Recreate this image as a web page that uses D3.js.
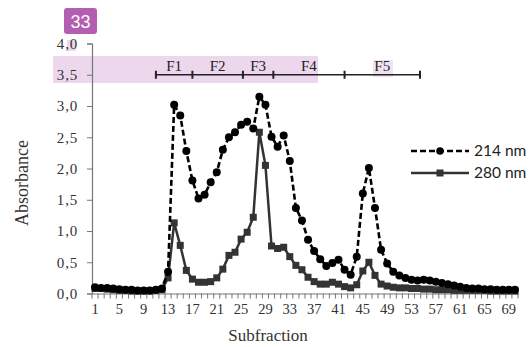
<!DOCTYPE html>
<html>
<head>
<meta charset="utf-8">
<script src="https://cdn.jsdelivr.net/npm/d3@7"></script>
<style>
  html, body { margin: 0; padding: 0; background: #fff; }
  svg { display: block; }
</style>
</head>
<body>
<svg id="chart" width="529" height="347"></svg>
<script>
// subfractions 1..70
const fractions = d3.range(1, 71);

const abs214 = [
  0.10, 0.09, 0.09, 0.08, 0.07, 0.06, 0.06, 0.05, 0.05, 0.05,
  0.06, 0.08, 0.35, 3.02, 2.85, 2.28, 1.81, 1.52, 1.58, 1.78,
  1.94, 2.30, 2.50, 2.58, 2.70, 2.75, 2.64, 3.15, 3.02, 2.51,
  2.35, 2.53, 2.12, 1.37, 1.17, 0.86, 0.68, 0.55, 0.44, 0.49,
  0.54, 0.38, 0.30, 0.59, 1.60, 2.01, 1.37, 0.70, 0.48, 0.35,
  0.29, 0.25, 0.22, 0.21, 0.22, 0.21, 0.19, 0.17, 0.15, 0.13,
  0.11, 0.09, 0.08, 0.08, 0.07, 0.07, 0.06, 0.06, 0.06, 0.06
];

const abs280 = [
  0.08, 0.08, 0.07, 0.06, 0.05, 0.05, 0.04, 0.04, 0.04, 0.04,
  0.05, 0.06, 0.25, 1.13, 0.77, 0.37, 0.23, 0.18, 0.18, 0.19,
  0.25, 0.39, 0.61, 0.66, 0.87, 0.98, 1.22, 2.58, 2.05, 0.76,
  0.72, 0.74, 0.59, 0.45, 0.38, 0.26, 0.19, 0.15, 0.15, 0.18,
  0.15, 0.11, 0.09, 0.14, 0.36, 0.50, 0.29, 0.15, 0.12, 0.10,
  0.09, 0.09, 0.08, 0.08, 0.07, 0.07, 0.06, 0.06, 0.06, 0.05,
  0.05, 0.05, 0.05, 0.05, 0.05, 0.04, 0.04, 0.04, 0.04, 0.04
];

const yTicks = [0, 0.5, 1, 1.5, 2, 2.5, 3, 3.5, 4];
const xLabels = d3.range(1, 71, 4);

const fracNames = ['F1', 'F2', 'F3', 'F4', 'F5'];
const fracStart = [11, 17, 25.3, 30.3, 42];
const fracEnd = [17, 25.3, 30.3, 42, 54.4];
const fracLevel = 3.5;

const seriesNames = ['214 nm', '280 nm'];

const svg = d3.select('#chart');

const x = d3.scaleBand()
  .domain(fractions)
  .range([92, 518])
  .padding(0);
const bw = x.bandwidth();
const cx = f => x(f) + bw / 2;
// fractional positions for the bar above the peaks
const xf = d3.scaleLinear().domain([1, 70]).range([cx(1), cx(70)]);

const y = d3.scaleLinear()
  .domain([0, 4])
  .range([293.5, 43.5]);

const comma = d => d3.format('.1f')(d).replace('.', ',');

// highlight boxes (annotation overlay)
svg.append('rect')
  .attr('x', 53).attr('y', 56).attr('width', 265).attr('height', 27)
  .attr('fill', '#ecd7ec');
svg.append('rect')
  .attr('x', 67).attr('y', 40).attr('width', 9).attr('height', 11)
  .attr('fill', '#ecd7ec');
svg.append('rect')
  .attr('x', 373).attr('y', 60).attr('width', 20).attr('height', 17)
  .attr('fill', '#f1e2f1');

// y axis
const yAxis = svg.append('g')
  .attr('transform', 'translate(92,0)')
  .call(d3.axisLeft(y).tickValues(yTicks).tickSize(5).tickPadding(9).tickFormat(comma));
yAxis.select('.domain').attr('stroke', '#777').attr('stroke-width', 1.2);
yAxis.selectAll('.tick line').attr('stroke', '#777');
yAxis.selectAll('text')
  .attr('font-family', 'Liberation Serif, serif')
  .attr('font-size', 15)
  .attr('letter-spacing', 0.8)
  .attr('fill', '#333');

// x axis: labels every 4th fraction, ticks at every band boundary
const xAxis = svg.append('g')
  .attr('transform', `translate(0,${y(0)})`)
  .call(d3.axisBottom(x).tickValues(xLabels).tickSize(0).tickPadding(10));
xAxis.select('.domain').attr('stroke', '#777').attr('stroke-width', 1.2);
xAxis.selectAll('text')
  .attr('font-family', 'Liberation Serif, serif')
  .attr('font-size', 14.5)
  .attr('fill', '#333');

svg.append('g')
  .selectAll('line')
  .data(fractions.concat([71]))
  .join('line')
  .attr('x1', f => f <= 70 ? x(f) : x(70) + bw)
  .attr('x2', f => f <= 70 ? x(f) : x(70) + bw)
  .attr('y1', y(0))
  .attr('y2', y(0) + 5)
  .attr('stroke', '#777')
  .attr('stroke-width', 1);

// axis titles
svg.append('text')
  .attr('x', 268).attr('y', 341)
  .attr('text-anchor', 'middle')
  .attr('font-family', 'Liberation Serif, serif')
  .attr('font-size', 17)
  .attr('fill', '#333')
  .text('Subfraction');

svg.append('text')
  .attr('transform', 'translate(28,183) rotate(-90)')
  .attr('text-anchor', 'middle')
  .attr('font-family', 'Liberation Serif, serif')
  .attr('font-size', 18)
  .attr('fill', '#333')
  .text('Absorbance');

// fraction bar
const fg = svg.append('g');
fg.append('line')
  .attr('x1', xf(fracStart[0]))
  .attr('x2', xf(fracEnd[fracEnd.length - 1]))
  .attr('y1', y(fracLevel)).attr('y2', y(fracLevel))
  .attr('stroke', '#222').attr('stroke-width', 1.6);
fg.selectAll('.ftick')
  .data(fracStart.concat([fracEnd[fracEnd.length - 1]]))
  .join('line')
  .attr('class', 'ftick')
  .attr('x1', d => xf(d)).attr('x2', d => xf(d))
  .attr('y1', y(fracLevel) - 4).attr('y2', y(fracLevel) + 4)
  .attr('stroke', '#222').attr('stroke-width', 2);
fg.selectAll('.flabel')
  .data(fracNames)
  .join('text')
  .attr('class', 'flabel')
  .attr('x', (d, i) => (xf(fracStart[i]) + xf(fracEnd[i])) / 2)
  .attr('y', y(fracLevel) - 4)
  .attr('text-anchor', 'middle')
  .attr('font-family', 'Liberation Serif, serif')
  .attr('font-size', 15)
  .attr('fill', '#222')
  .text(d => d);

// series
const line = d3.line()
  .x((d, i) => cx(fractions[i]))
  .y(d => y(d));

svg.append('path')
  .datum(abs280)
  .attr('d', line)
  .attr('fill', 'none')
  .attr('stroke', '#333')
  .attr('stroke-width', 2.5);

svg.append('g')
  .selectAll('rect')
  .data(abs280)
  .join('rect')
  .attr('x', (d, i) => cx(fractions[i]) - 3.5)
  .attr('y', d => y(d) - 3.5)
  .attr('width', 7).attr('height', 7)
  .attr('fill', '#333');

svg.append('path')
  .datum(abs214)
  .attr('d', line)
  .attr('fill', 'none')
  .attr('stroke', '#000')
  .attr('stroke-width', 2.6)
  .attr('stroke-dasharray', '6,3');

svg.append('g')
  .selectAll('circle')
  .data(abs214)
  .join('circle')
  .attr('cx', (d, i) => cx(fractions[i]))
  .attr('cy', d => y(d))
  .attr('r', 4)
  .attr('fill', '#000');

// legend
const legend = svg.append('g');
seriesNames.forEach((name, i) => {
  const ly = 151 + i * 22;
  legend.append('line')
    .attr('x1', 411).attr('x2', 469)
    .attr('y1', ly).attr('y2', ly)
    .attr('stroke', i === 0 ? '#000' : '#333')
    .attr('stroke-width', 2.4)
    .attr('stroke-dasharray', i === 0 ? '6,3' : null);
  if (i === 0) {
    legend.append('circle').attr('cx', 440).attr('cy', ly).attr('r', 3.8).attr('fill', '#000');
  } else {
    legend.append('rect').attr('x', 436.5).attr('y', ly - 3.5).attr('width', 7).attr('height', 7).attr('fill', '#333');
  }
  legend.append('text')
    .attr('x', 474).attr('y', ly + 5)
    .attr('font-family', 'Lato, sans-serif')
    .attr('font-size', 15.5)
    .attr('fill', '#222')
    .text(name);
});

// badge
svg.append('rect')
  .attr('x', 64).attr('y', 8).attr('width', 33).attr('height', 26)
  .attr('rx', 3)
  .attr('fill', '#b35db3');
svg.append('text')
  .attr('x', 80.5).attr('y', 28)
  .attr('text-anchor', 'middle')
  .attr('font-family', 'Liberation Sans, Arial, sans-serif')
  .attr('font-size', 18)
  .attr('fill', '#fff')
  .text('33');
</script>
</body>
</html>
